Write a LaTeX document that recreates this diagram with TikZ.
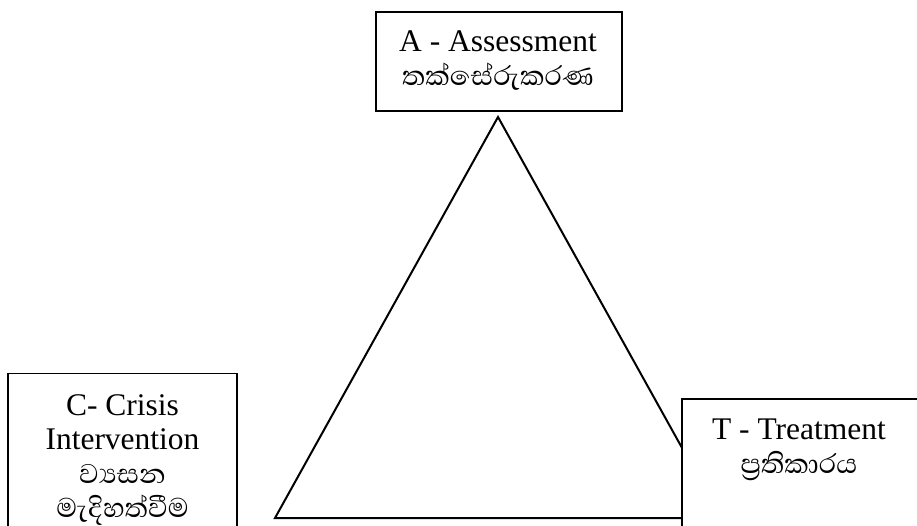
\documentclass[tikz,border=0pt]{standalone}
\usepackage{fontspec}
\setmainfont{Liberation Serif}
\newfontfamily\sinhala[Script=Sinhala,Scale=1.1]{Abhaya Libre}
\begin{document}
\begin{tikzpicture}[x=1pt,y=-1pt,
  box/.style={draw, line width=1.8pt, fill=white, inner sep=0pt},
  edge/.style={draw, line width=1.8pt},
  lbl/.style={align=center, inner sep=0pt, font=\fontsize{31.5}{34}\selectfont},
  tri/.style={draw, line width=2pt, line join=miter}]
\useasboundingbox (0,0) rectangle (917,526);
\fill[white] (0,0) rectangle (917,526);
% triangle
\coordinate (apex) at (498,117);
\coordinate (bl) at (275,518);
\coordinate (br) at (721,518);
\draw[tri] (apex) -- (bl) -- (br) -- cycle;
% boxes
\node[box, anchor=north west, minimum width=246pt, minimum height=99pt] (A) at (375,11) {};
\node[fill=white, inner sep=0pt, outer sep=0pt, anchor=north west, minimum width=235pt, minimum height=127pt] (T) at (682,399) {};
\draw[edge] (T.south west) |- (T.north east);
\node[fill=white, inner sep=0pt, outer sep=0pt, anchor=north west, minimum width=229pt, minimum height=152.5pt] (C) at (8,373.5) {};
\draw[edge] (C.south west) |- (C.north east) -- (C.south east);
% labels
\node[lbl, anchor=north] (At) at (498,31) {A - Assessment\\{\sinhala තක්සේරුකරණ}};
\node[lbl, anchor=north] (Ct) at (122.5,394) {C- Crisis\\Intervention\\{\sinhala ව්‍යසන}\\{\sinhala මැදිහත්වීම}};
\node[lbl, anchor=north] (Tt) at (799,419) {T - Treatment\\{\sinhala ප්‍රතිකාරය}};
\end{tikzpicture}
\end{document}
